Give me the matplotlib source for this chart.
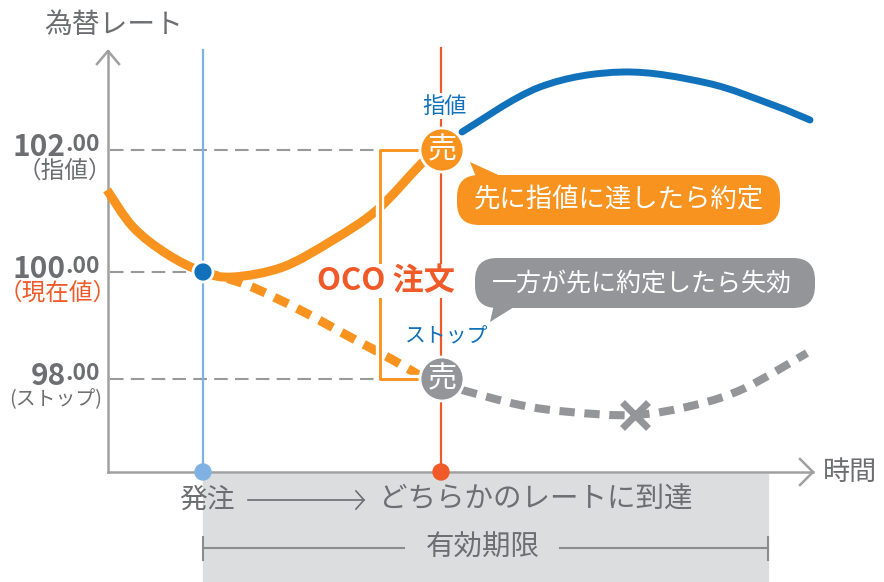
"""
OCO order diagram: limit / stop, whichever is hit first.
"""
import matplotlib.pyplot as plt
import matplotlib.patheffects as pe
from matplotlib.path import Path
from matplotlib.patches import Circle, FancyBboxPatch, PathPatch, Polygon, Rectangle

plt.rcParams['font.family'] = ['Noto Sans CJK JP', 'DejaVu Sans']

ORANGE = '#f7931e'
RED = '#f05a28'
BLUE = '#1172bb'
LIGHT_BLUE = '#7fb2e3'
GRAY = '#939598'
AXIS_GRAY = '#a0a0a0'
TEXT_GRAY = '#6d6e71'
BAND = '#dcdddf'

# diagram space: x = time, y = rate position (downwards, as drawn)
level_y = [150, 272, 379]
level_main = ['102', '100', '98']
level_dec = ['.00', '.00', '.00']
level_sub = ['（指値）', '（現在値）', '(ストップ)']
level_sub_size = [17, 17, 14.3]
level_sub_right = [112, 117, 102]
level_sub_color = [TEXT_GRAY, RED, TEXT_GRAY]
level_end = [380, 195, 380]

t_order = 203
t_hit = 441
t_expire = 768

# rate path up to the limit (solid orange)
limit_t = [107, 133, 167, 203, 233, 283, 333, 377, 420, 432]
limit_r = [190, 227, 254, 272, 277, 267, 240, 210, 165, 155]
# alternative path down to the stop (dashed orange)
stop_t = [203, 247, 300, 350, 393, 422]
stop_r = [272, 285, 310, 337, 360, 377]
# after the limit fills (blue)
after_limit_t = [462, 540, 623, 707, 773, 810]
after_limit_r = [132, 87, 72, 83, 105, 120]
# cancelled stop side (dashed gray)
after_stop_t = [462, 520, 570, 635, 695, 745, 807]
after_stop_r = [390, 405, 412, 415, 405, 388, 353]
cancel_t, cancel_r = 635, 415


def smooth_path(xs, ys):
    """Bezier path through the given points (Catmull-Rom tangents)."""
    pts = list(zip(xs, ys))
    verts = [pts[0]]
    codes = [Path.MOVETO]
    for i in range(len(pts) - 1):
        p0 = pts[i - 1] if i > 0 else pts[i]
        p1, p2 = pts[i], pts[i + 1]
        p3 = pts[i + 2] if i + 2 < len(pts) else pts[i + 1]
        c1 = (p1[0] + (p2[0] - p0[0]) / 6, p1[1] + (p2[1] - p0[1]) / 6)
        c2 = (p2[0] - (p3[0] - p1[0]) / 6, p2[1] - (p3[1] - p1[1]) / 6)
        verts += [c1, c2, p2]
        codes += [Path.CURVE4] * 3
    return Path(verts, codes)


fig = plt.figure(figsize=(8.84, 5.82), dpi=100)
ax = fig.add_axes([0, 0, 1, 1])
ax.set_xlim(0, 884)
ax.set_ylim(582, 0)
ax.axis('off')

# validity band under the time axis
ax.add_patch(Rectangle((t_order, 474), t_expire - t_order, 120, color=BAND, zorder=0))

# axes with open arrow heads
ax.plot([108, 108], [472, 51], color=AXIS_GRAY, lw=1.8, zorder=2)
ax.plot([97, 108, 119], [64, 51, 64], color=AXIS_GRAY, lw=1.8, zorder=2)
ax.plot([108, 813], [472, 472], color=AXIS_GRAY, lw=1.8, zorder=2)
ax.plot([800, 813, 800], [459, 472, 485], color=AXIS_GRAY, lw=1.8, zorder=2)
ax.text(114, 25, '為替レート', fontsize=20, color=TEXT_GRAY, ha='center', va='center')
ax.text(850, 472, '時間', fontsize=19.5, color=TEXT_GRAY, ha='center', va='center')

# level lines and labels
for y, main, dec, sub, size, xr, col, end in zip(level_y, level_main, level_dec,
                                                 level_sub, level_sub_size,
                                                 level_sub_right, level_sub_color,
                                                 level_end):
    ax.plot([110, end], [y, y], color='#999999', lw=1.5,
            linestyle=(0, (6.5, 3.5)), zorder=2)
    d = ax.text(100, y + 1, dec, fontsize=16.5, fontweight='bold', color=TEXT_GRAY,
                ha='right', va='baseline')
    ax.annotate(main, xy=(0, 0), xycoords=d, fontsize=21.5, fontweight='bold',
                color=TEXT_GRAY, ha='right', va='baseline')
    ax.text(xr, y + 21, sub, fontsize=size, color=col, ha='right', va='center')

# vertical markers: order time and hit time
ax.plot([t_order, t_order], [50, 472], color=LIGHT_BLUE, lw=1.6, zorder=2)
ax.plot([t_hit, t_hit], [48, 472], color=RED, lw=1.6, zorder=2)
ax.add_patch(Circle((t_order, 472), 8, color=LIGHT_BLUE, zorder=5))
ax.add_patch(Circle((t_hit, 472), 8, color=RED, zorder=5))

# rate paths
ax.add_patch(PathPatch(smooth_path(limit_t, limit_r), fill=False, edgecolor=ORANGE,
                       lw=6.5, capstyle='butt', zorder=3))
ax.add_patch(PathPatch(smooth_path(stop_t, stop_r), fill=False, edgecolor=ORANGE,
                       lw=6.5, linestyle=(0, (1.7, 1.1)), capstyle='butt', zorder=3))
ax.add_patch(PathPatch(smooth_path(after_limit_t, after_limit_r), fill=False,
                       edgecolor=BLUE, lw=5, capstyle='round', zorder=3))
ax.add_patch(PathPatch(smooth_path(after_stop_t, after_stop_r), fill=False,
                       edgecolor=GRAY, lw=5.8, linestyle=(0, (1.9, 1.2)),
                       capstyle='butt', zorder=3))
ax.plot(cancel_t, cancel_r, marker='x', markersize=19, mew=5, color=GRAY, zorder=4)

# OCO bracket
ax.plot([417, 380, 380, 417], [level_y[0], level_y[0], level_y[2], level_y[2]],
        color=ORANGE, lw=1.8, zorder=4,
        path_effects=[pe.withStroke(linewidth=6, foreground='white'), pe.Normal()])
ax.text(386, 281, 'OCO 注文', fontsize=22.5, fontweight='bold', color=RED,
        ha='center', va='center', zorder=6,
        bbox=dict(facecolor='white', edgecolor='none', pad=1))

# current rate dot
ax.add_patch(Circle((t_order, 272), 10, facecolor=BLUE, edgecolor='white', lw=2,
                    zorder=6))

# sell points
for y, col in [(level_y[0], ORANGE), (level_y[2], GRAY)]:
    ax.add_patch(Circle((t_hit + 1, y), 22, facecolor=col, edgecolor='white', lw=2,
                        zorder=5))
    ax.text(t_hit + 1, y, '売', fontsize=21, color='white', ha='center',
            va='center', zorder=6)
ax.text(445, 106, '指値', fontsize=16, color=BLUE, ha='center', va='center',
        zorder=6, bbox=dict(facecolor='white', edgecolor='none', pad=1))
ax.text(447, 335, 'ストップ', fontsize=15, color=BLUE, ha='center', va='center',
        zorder=6)

# callouts
ax.add_patch(FancyBboxPatch((457, 175), 323, 50,
                            boxstyle='round,pad=0,rounding_size=22',
                            facecolor=ORANGE, edgecolor='none', zorder=5))
ax.add_patch(Polygon([(470, 162), (478, 182), (505, 178)], closed=True,
                     facecolor=ORANGE, edgecolor='none', zorder=5))
ax.text(619, 200, '先に指値に達したら約定', fontsize=19, color='white',
        ha='center', va='center', zorder=6)
ax.add_patch(FancyBboxPatch((475, 258), 340, 50,
                            boxstyle='round,pad=0,rounding_size=22',
                            facecolor=GRAY, edgecolor='none', zorder=5))
ax.add_patch(Polygon([(490, 322), (495, 300), (522, 302)], closed=True,
                     facecolor=GRAY, edgecolor='none', zorder=5))
ax.text(642, 283, '一方が先に約定したら失効', fontsize=18, color='white',
        ha='center', va='center', zorder=6)

# timeline captions
ax.text(207, 500, '発注', fontsize=20, color=TEXT_GRAY, ha='center', va='center')
ax.plot([248, 364], [500, 500], color=TEXT_GRAY, lw=1.2)
ax.plot([356, 364, 356], [491, 500, 509], color=TEXT_GRAY, lw=1.2)
ax.text(536, 500, 'どちらかのレートに到達', fontsize=20.5, color=TEXT_GRAY,
        ha='center', va='center')

ax.plot([t_order, 404], [548, 548], color='#8c8c8c', lw=1.5)
ax.plot([560, t_expire], [548, 548], color='#8c8c8c', lw=1.5)
ax.plot([t_order, t_order], [537, 560], color='#8c8c8c', lw=1.5)
ax.plot([t_expire, t_expire], [537, 560], color='#8c8c8c', lw=1.5)
ax.text(483, 548, '有効期限', fontsize=20.5, color=TEXT_GRAY, ha='center', va='center')

fig.savefig('out.png', dpi=100)
